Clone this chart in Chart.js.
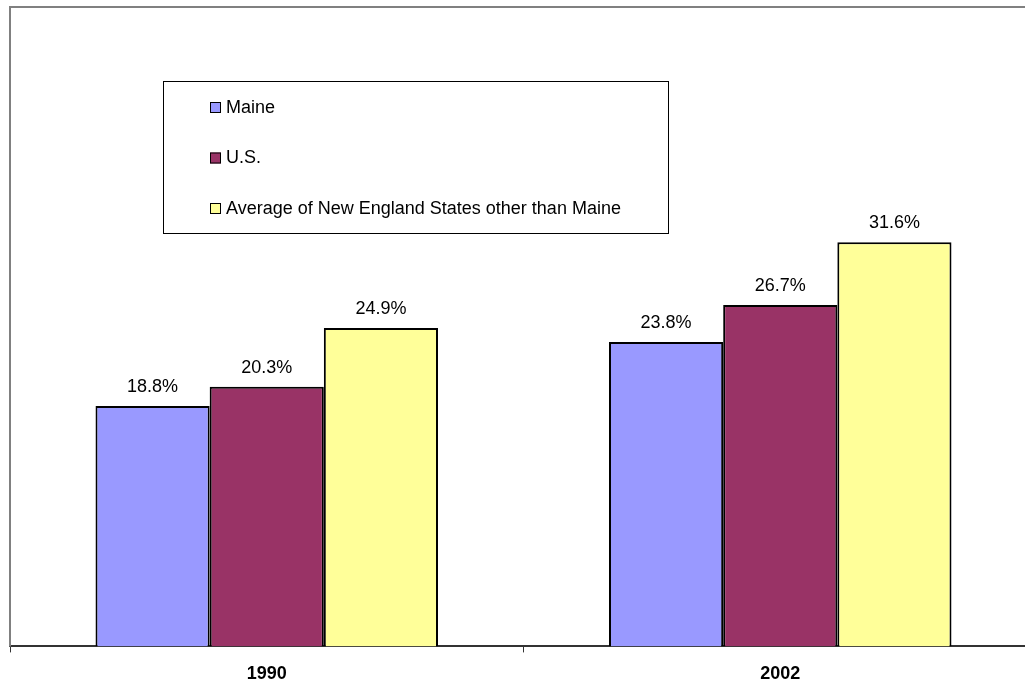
<!DOCTYPE html>
<html>
<head>
<meta charset="utf-8">
<script src="https://cdn.jsdelivr.net/npm/chart.js@4"></script>
<style>
html, body { margin: 0; padding: 0; background: #fff; overflow: hidden; }
#wrap { width: 1037px; height: 696px; }
</style>
</head>
<body>
<div id="wrap"><canvas id="myChart"></canvas></div>
<script>
const years = ['1990', '2002'];
const maineValues = [18.8, 23.8];
const usValues = [20.3, 26.7];
const newEnglandValues = [24.9, 31.6];
const seriesNames = ['Maine', 'U.S.', 'Average of New England States other than Maine'];

// value labels above each bar
const barLabels = {
    id: 'barLabels',
    afterDatasetsDraw(chart) {
        const ctx = chart.ctx;
        ctx.save();
        ctx.font = '18px "Liberation Sans", Arial, sans-serif';
        ctx.fillStyle = '#000';
        ctx.textAlign = 'center';
        ctx.textBaseline = 'alphabetic';
        chart.data.datasets.forEach((ds, i) => {
            chart.getDatasetMeta(i).data.forEach((bar, j) => {
                ctx.fillText(ds.data[j].toFixed(1) + '%', bar.x, bar.y - 14);
            });
        });
        ctx.restore();
    }
};

// plot frame and the boxed legend inside the plot
const frameAndLegend = {
    id: 'frameAndLegend',
    afterDraw(chart) {
        const ctx = chart.ctx;
        const a = chart.chartArea;
        ctx.save();
        ctx.strokeStyle = '#808080';
        ctx.lineWidth = 2;
        ctx.beginPath();
        ctx.moveTo(a.left, a.bottom);
        ctx.lineTo(a.left, a.top);
        ctx.lineTo(chart.width, a.top);
        ctx.stroke();

        ctx.strokeStyle = '#000';
        ctx.lineWidth = 1;
        ctx.strokeRect(163.5, 81.5, 505, 152);
        ctx.font = '18px "Liberation Sans", Arial, sans-serif';
        ctx.textBaseline = 'middle';
        ctx.textAlign = 'left';
        chart.data.datasets.forEach((ds, i) => {
            const y = 107 + i * 50.5;
            ctx.fillStyle = ds.backgroundColor;
            ctx.fillRect(210, y - 5, 11, 11);
            ctx.strokeStyle = '#000';
            ctx.strokeRect(210.5, y - 4.5, 10, 10);
            ctx.fillStyle = '#000';
            ctx.fillText(ds.label, 226, y + 1);
        });
        ctx.restore();
    }
};

const ctx = document.getElementById('myChart').getContext('2d');
const myChart = new Chart(ctx, {
    type: 'bar',
    data: {
        labels: years,
        datasets: [
            { label: seriesNames[0], data: maineValues, backgroundColor: '#9999FF', borderColor: '#000', borderWidth: 2 },
            { label: seriesNames[1], data: usValues, backgroundColor: '#993366', borderColor: '#000', borderWidth: 2 },
            { label: seriesNames[2], data: newEnglandValues, backgroundColor: '#FFFF99', borderColor: '#000', borderWidth: 2 }
        ]
    },
    options: {
        responsive: true,
        maintainAspectRatio: false,
        animation: false,
        layout: { padding: { left: 10, top: 7, right: 0, bottom: 0 } },
        categoryPercentage: 0.667,
        barPercentage: 1.0,
        plugins: {
            legend: { display: false },
            tooltip: { enabled: false }
        },
        scales: {
            x: {
                grid: { offset: true, drawOnChartArea: false, tickLength: 6, color: '#333', lineWidth: 1 },
                border: { color: '#333', width: 2 },
                ticks: {
                    color: '#000',
                    padding: 11,
                    font: { family: '"Liberation Sans", Arial, sans-serif', size: 18, weight: 'bold' }
                }
            },
            y: {
                display: false,
                min: 0,
                max: 50
            }
        }
    },
    plugins: [barLabels, frameAndLegend]
});
</script>
</body>
</html>
